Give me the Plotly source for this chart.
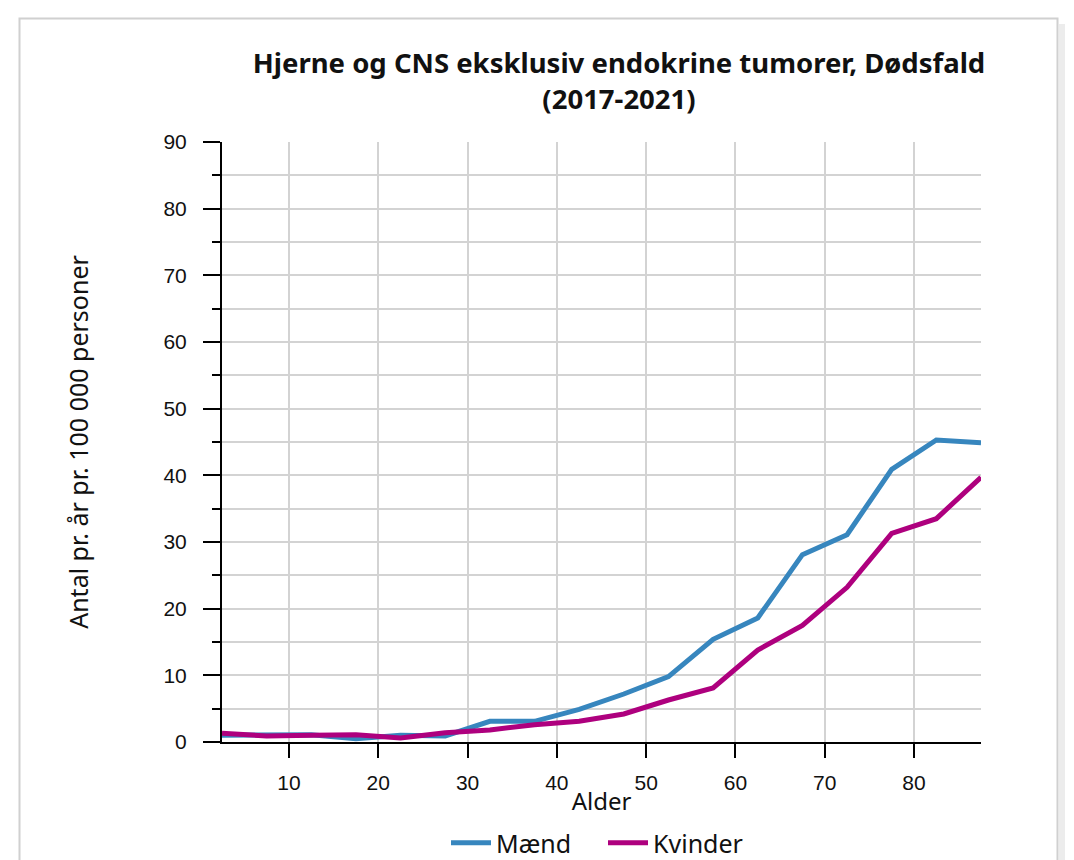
import plotly.graph_objects as go

alder = [2.5, 7.5, 12.5, 17.5, 22.5, 27.5, 32.5, 37.5, 42.5, 47.5,
         52.5, 57.5, 62.5, 67.5, 72.5, 77.5, 82.5, 87.5]
maend = [1.0, 1.0, 1.1, 0.5, 1.0, 0.9, 3.1, 3.1, 4.9, 7.2,
         9.8, 15.4, 18.6, 28.1, 31.1, 40.9, 45.3, 44.9]
kvinder = [1.3, 0.9, 1.0, 1.1, 0.6, 1.4, 1.8, 2.6, 3.1, 4.2,
           6.3, 8.1, 13.8, 17.5, 23.2, 31.3, 33.5, 39.7]
x_ticks = [10, 20, 30, 40, 50, 60, 70, 80]
y_ticks = [0, 10, 20, 30, 40, 50, 60, 70, 80, 90]

title_text = "Hjerne og CNS eksklusiv endokrine tumorer, Dødsfald<br>(2017-2021)"
x_title = "Alder"
y_title = "Antal pr. år pr. 100 000 personer"

W, H = 1074, 860
L, R, T, B = 222, 93, 142, 118
pw, ph = W - L - R, H - T - B

def px(xp):
    return (xp - L) / pw

def py(yp):
    return (H - B - yp) / ph

fig = go.Figure()
fig.add_trace(go.Scatter(x=alder, y=maend, mode="lines", name="Mænd",
                         line=dict(color="#3786be", width=5)))
fig.add_trace(go.Scatter(x=alder, y=kvinder, mode="lines", name="Kvinder",
                         line=dict(color="#ae007e", width=5)))

axis_font = dict(family="Liberation Sans, Arial", size=21, color="#111111")
text_font = dict(family="Noto Sans", size=24, color="#111111")

fig.update_layout(
    width=W, height=H,
    margin=dict(l=L, r=R, t=T, b=B, autoexpand=False),
    paper_bgcolor="white", plot_bgcolor="white",
    title=dict(text=title_text, xref="container", x=619 / W, xanchor="center",
               y=1 - 73 / H, yanchor="middle",
               font=dict(family="Noto Sans", size=27.5, color="#111111",
                         weight="bold")),
    showlegend=True,
    legend=dict(orientation="h", x=px(603), xanchor="center",
                y=py(843), yanchor="middle",
                font=dict(family="Noto Sans", size=25, color="#111111"),
                entrywidth=102, itemwidth=40, bgcolor="rgba(0,0,0,0)"),
    xaxis=dict(range=[2.5, 87.5], tickvals=x_ticks, showgrid=True,
               gridcolor="#d3d3d3", gridwidth=1.5,
               showline=True, linecolor="black", linewidth=2,
               ticks="outside", ticklen=14, tickwidth=2, tickcolor="black",
               tickfont=axis_font, ticklabelstandoff=7, zeroline=False,
               title=dict(text=x_title, standoff=0, font=text_font)),
    yaxis=dict(range=[0, 90], tickvals=y_ticks, showgrid=True,
               gridcolor="#d3d3d3", gridwidth=1.5,
               showline=True, linecolor="black", linewidth=2,
               ticks="outside", ticklen=17, tickwidth=2, tickcolor="black",
               tickfont=axis_font, ticklabelstandoff=12, zeroline=False,
               minor=dict(dtick=5, tick0=0, showgrid=True, gridcolor="#d3d3d3",
                          gridwidth=1.5, ticks="outside", ticklen=8,
                          tickwidth=2, tickcolor="black"),
               title=dict(text=y_title, standoff=68,
                          font=dict(family="Noto Sans", size=25, color="#111111"))),
)

# card shadow and border
fig.add_shape(type="rect", xref="paper", yref="paper", layer="below",
              x0=px(1059), x1=px(1065), y0=py(900), y1=py(24),
              line=dict(width=0), fillcolor="#ececec")
fig.add_shape(type="rect", xref="paper", yref="paper", layer="below",
              x0=px(19.5), x1=px(1057.5), y0=py(900), y1=py(18.5),
              line=dict(color="#d0d0d0", width=2), fillcolor="white")

fig.write_html("out.html", config={"displayModeBar": False},
               post_script="document.body.style.margin='0';document.body.style.overflow='hidden';")
